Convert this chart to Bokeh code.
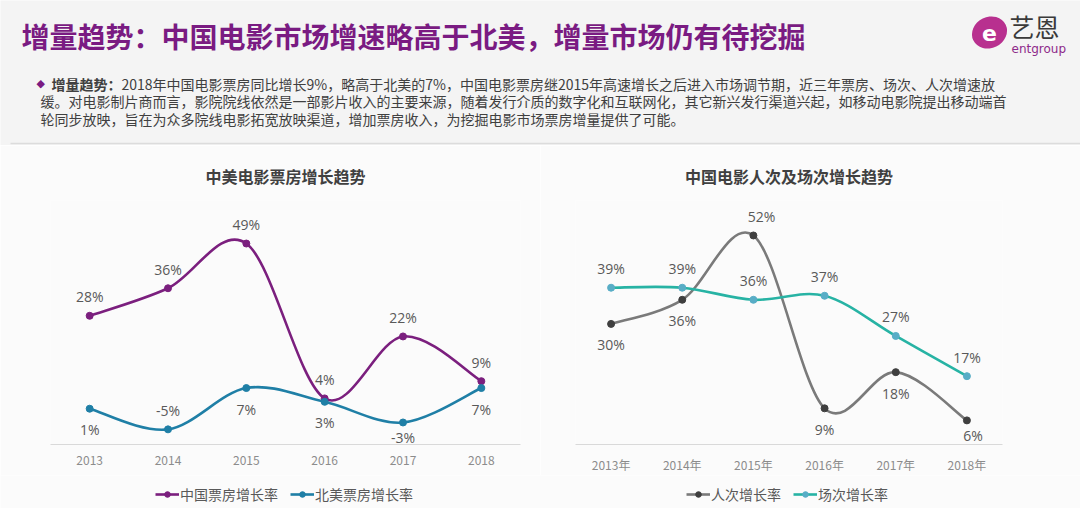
from bokeh.plotting import figure
from bokeh.layouts import column, row
from bokeh.models import Range1d, FixedTicker, Legend, LegendItem, ColumnDataSource, Label
from bokeh.core.properties import value
from bokeh.embed import file_html
from bokeh.resources import INLINE

# ---------------- data ----------------
years = [2013, 2014, 2015, 2016, 2017, 2018]
left_tick_labels = ["2013", "2014", "2015", "2016", "2017", "2018"]
right_tick_labels = ["2013年", "2014年", "2015年", "2016年", "2017年", "2018年"]

cn_box_growth = [28, 36, 49, 4, 22, 9]      # 中国票房增长率
na_box_growth = [1, -5, 7, 3, -3, 7]        # 北美票房增长率
admission_growth = [30, 36, 52, 9, 18, 6]   # 人次增长率
screening_growth = [39, 39, 36, 37, 27, 17] # 场次增长率

series_names = ["中国票房增长率", "北美票房增长率", "人次增长率", "场次增长率"]

main_title = "增量趋势：中国电影市场增速略高于北美，增量市场仍有待挖掘"
para_bold = "增量趋势："
para_lines = [
    "2018年中国电影票房同比增长9%，略高于北美的7%，中国电影票房继2015年高速增长之后进入市场调节期，近三年票房、场次、人次增速放",
    "缓。对电影制片商而言，影院院线依然是一部影片收入的主要来源，随着发行介质的数字化和互联网化，其它新兴发行渠道兴起，如移动电影院提出移动端首",
    "轮同步放映，旨在为众多院线电影拓宽放映渠道，增加票房收入，为挖掘电影市场票房增量提供了可能。",
]
left_title = "中美电影票房增长趋势"
right_title = "中国电影人次及场次增长趋势"

# ---------------- styles ----------------
CJK = "Noto Sans CJK SC"
NUM = "Open Sans"
PURPLE = "#7b1f7e"
TITLE_PURPLE = "#7a1b82"
NA_BLUE = "#1f7fa6"
GRAY_LINE = "#7a7a7a"
GRAY_DOT = "#3f3f3f"
TEAL_LINE = "#27b3a4"
TEAL_DOT = "#58adc6"
LABEL_COLOR = "#595959"
HEADER_BG = "#f4f4f4"
PLOT_BG = "#fbfbfb"
LINE_W = 2.6
DOT_SIZE = 7

# label placement (screen px, negative = above)
ABOVE, BELOW = -19, 21
cn_lbl_pos = [ABOVE] * 6
na_lbl_pos = [BELOW, ABOVE, BELOW, BELOW, 15, BELOW]
adm_lbl_pos = [BELOW, BELOW, ABOVE, BELOW, BELOW, 15]
adm_lbl_dx = [0, 0, 8, 0, 0, 6]
scr_lbl_pos = [ABOVE] * 6


def smooth_bezier(xs, ys):
    """Catmull-Rom style smoothing (like office 'smoothed line')."""
    n = len(xs)
    out = dict(x0=[], y0=[], x1=[], y1=[], cx0=[], cy0=[], cx1=[], cy1=[])
    for i in range(n - 1):
        i0 = max(i - 1, 0)
        i3 = min(i + 2, n - 1)
        p0 = (xs[i0], ys[i0]); p1 = (xs[i], ys[i])
        p2 = (xs[i + 1], ys[i + 1]); p3 = (xs[i3], ys[i3])
        out["x0"].append(p1[0]); out["y0"].append(p1[1])
        out["x1"].append(p2[0]); out["y1"].append(p2[1])
        out["cx0"].append(p1[0] + (p2[0] - p0[0]) / 6.0)
        out["cy0"].append(p1[1] + (p2[1] - p0[1]) / 6.0)
        out["cx1"].append(p2[0] - (p3[0] - p1[0]) / 6.0)
        out["cy1"].append(p2[1] - (p3[1] - p1[1]) / 6.0)
    return ColumnDataSource(out)


def add_series(p, ys, line_color, dot_color, offs, dxs=None):
    p.bezier(x0="x0", y0="y0", x1="x1", y1="y1", cx0="cx0", cy0="cy0",
             cx1="cx1", cy1="cy1", source=smooth_bezier(years, ys),
             line_color=line_color, line_width=LINE_W)
    src = ColumnDataSource(dict(x=years, y=ys, lbl=[f"{v}%" for v in ys],
                                dy=offs, dx=dxs if dxs else [0] * len(ys)))
    p.scatter("x", "y", source=src, size=DOT_SIZE, fill_color=dot_color,
              line_color=dot_color)
    p.text("x", "y", text="lbl", source=src, x_offset="dx", y_offset="dy",
           text_align="center", text_baseline="middle",
           text_font=value(NUM), text_font_size="14px", text_color=LABEL_COLOR)


def make_chart(title, width, border_left, border_right, y_lo, y_hi, tick_labels):
    p = figure(width=width, height=330, output_backend="svg", toolbar_location=None,
               x_range=Range1d(2012.5, 2018.5), y_range=Range1d(y_lo, y_hi),
               min_border_left=border_left, min_border_right=border_right,
               min_border_top=55, min_border_bottom=31,
               background_fill_color=PLOT_BG, border_fill_color=PLOT_BG,
               outline_line_color=None, title=title)
    p.title.align = "center"
    p.title.text_font = CJK
    p.title.text_font_size = "16px"
    p.title.text_font_style = "bold"
    p.title.text_color = "#404040"
    p.title.standoff = 26
    p.yaxis.visible = False
    p.grid.visible = False
    ax = p.xaxis[0]
    ax.ticker = FixedTicker(ticks=years)
    ax.major_label_overrides = {y: t for y, t in zip(years, tick_labels)}
    ax.axis_line_color = "#d9d9d9"
    ax.major_tick_line_color = None
    ax.minor_tick_line_color = None
    ax.major_label_text_font = CJK
    ax.major_label_text_font_size = "12px"
    ax.major_label_text_color = "#8c8c8c"
    ax.major_label_standoff = 5
    return p


# ---------------- header ----------------
h = figure(width=1080, height=145, output_backend="svg", toolbar_location=None,
           x_range=Range1d(0, 1080), y_range=Range1d(145, 0),
           min_border=0, background_fill_color=HEADER_BG,
           border_fill_color=HEADER_BG, outline_line_color=None)
h.axis.visible = False
h.grid.visible = False

h.add_layout(Label(x=21, y=35, text=main_title, text_font=CJK, text_font_size="28px",
                   text_font_style="bold", text_color=TITLE_PURPLE, text_baseline="middle"))
# logo
h.ellipse(x=[989], y=[32], width=36, height=31, angle=0.45,
          fill_color="#b8308f", line_color=None)
h.add_layout(Label(x=989, y=32, text="e", text_font="DejaVu Sans", text_font_size="22px",
                   text_font_style="bold", text_color="white", text_align="center",
                   text_baseline="middle"))
h.add_layout(Label(x=1009, y=25, text="艺恩", text_font=CJK, text_font_size="25px",
                   text_color="#3a3a3a", text_baseline="middle"))
h.add_layout(Label(x=1011, y=48, text="entgroup", text_font="DejaVu Sans", text_font_size="12px",
                   text_color="#8e2a8a", text_baseline="middle"))
# paragraph
h.add_layout(Label(x=36, y=83, text="◆", text_font="DejaVu Sans", text_font_size="11px",
                   text_color=TITLE_PURPLE, text_baseline="middle"))
h.add_layout(Label(x=51, y=83, text=para_bold, text_font=CJK, text_font_size="14px",
                   text_font_style="bold", text_color="#404040", text_baseline="middle"))
for i, (lx, ln) in enumerate(zip([121, 40, 40], para_lines)):
    h.add_layout(Label(x=lx, y=83 + i * 17.5, text=ln, text_font=CJK, text_font_size="14px",
                       text_color="#404040", text_baseline="middle"))
h.segment(x0=[10], y0=[143], x1=[1080], y1=[143], line_color="#dcdcdc", line_width=1.5)

# ---------------- left chart ----------------
pl = make_chart(left_title, 540, 50, 20, -9.4, 61.5, left_tick_labels)
add_series(pl, cn_box_growth, PURPLE, PURPLE, cn_lbl_pos)
add_series(pl, na_box_growth, NA_BLUE, NA_BLUE, na_lbl_pos)

# ---------------- right chart ----------------
pr = make_chart(right_title, 540, 35, 78, 0, 60.7, right_tick_labels)
add_series(pr, admission_growth, GRAY_LINE, GRAY_DOT, adm_lbl_pos, adm_lbl_dx)
add_series(pr, screening_growth, TEAL_LINE, TEAL_DOT, scr_lbl_pos)

# ---------------- legend strip ----------------
# legend keys reuse each series' data; the strip's ranges keep them off-view,
# so only the legend glyphs show
lf = figure(width=1080, height=33, output_backend="svg", toolbar_location=None,
            x_range=Range1d(0, 1), y_range=Range1d(0, 1), min_border=0,
            background_fill_color=PLOT_BG, border_fill_color=PLOT_BG,
            outline_line_color=None)
lf.axis.visible = False
lf.grid.visible = False


def legend_item(name, ys, line_color, dot_color):
    ln = lf.line(x=years, y=ys, line_color=line_color, line_width=LINE_W)
    dt = lf.scatter(x=years, y=ys, size=DOT_SIZE, fill_color=dot_color, line_color=dot_color)
    return LegendItem(label=name, renderers=[ln, dt])


def add_legend(items, x_off):
    lg = Legend(items=items, orientation="horizontal", location=(x_off, 4),
                background_fill_alpha=0, border_line_color=None,
                label_text_font=CJK, label_text_font_size="14px",
                label_text_color=LABEL_COLOR, glyph_width=24, glyph_height=14,
                label_standoff=1, spacing=12, padding=2, margin=0)
    lf.add_layout(lg)


add_legend([legend_item(series_names[0], cn_box_growth, PURPLE, PURPLE),
            legend_item(series_names[1], na_box_growth, NA_BLUE, NA_BLUE)], 155)
add_legend([legend_item(series_names[2], admission_growth, GRAY_LINE, GRAY_DOT),
            legend_item(series_names[3], screening_growth, TEAL_LINE, TEAL_DOT)], 686)

layout = column(h, row(pl, pr), lf)
open("out.html", "w").write(file_html(layout, INLINE))
